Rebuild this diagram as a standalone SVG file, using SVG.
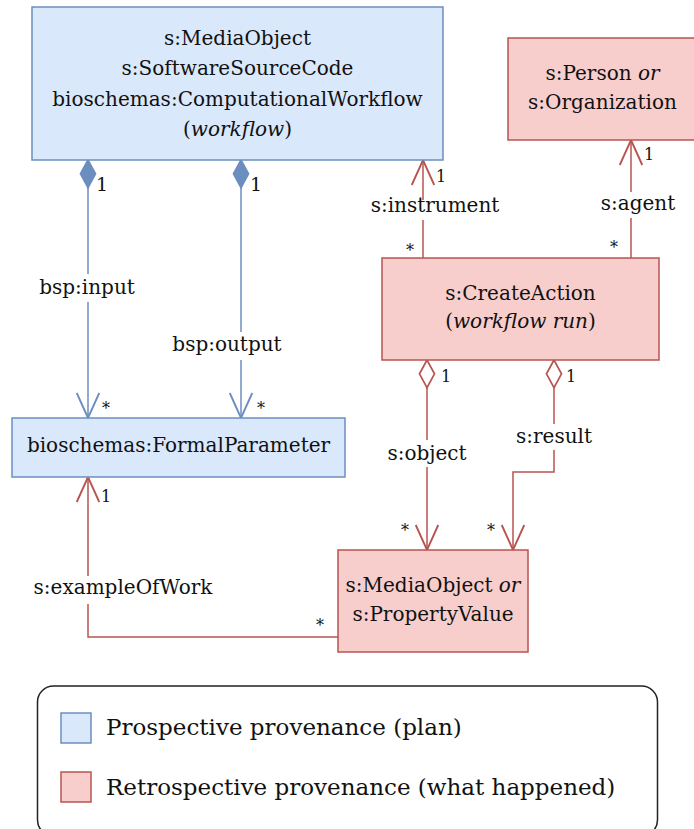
<svg xmlns="http://www.w3.org/2000/svg" width="694" height="829" viewBox="0 0 694 829">
<style>
.t{font-family:"DejaVu Serif","Liberation Serif",serif;font-size:20px;fill:#111;text-anchor:middle}
.m{font-family:"DejaVu Serif","Liberation Serif",serif;font-size:16px;fill:#111}
.lg{font-family:"DejaVu Serif","Liberation Serif",serif;font-size:23px;fill:#111}
.blue{fill:#dae8fc;stroke:#6c8ebf;stroke-width:1.5}
.red{fill:#f8cecc;stroke:#b85450;stroke-width:1.5}
.cb{fill:none;stroke:#6c8ebf;stroke-width:1.5}
.cr{fill:none;stroke:#b85450;stroke-width:1.5}
.bg{fill:#fff}
</style>
<defs>
<marker id="ab" markerUnits="userSpaceOnUse" markerWidth="30" markerHeight="30" viewBox="-22 -11 24 22" refX="0" refY="0" orient="auto" overflow="visible"><path d="M-20,-9 L0,0 L-20,9" fill="none" stroke="#6c8ebf" stroke-width="1.5"/></marker>
<marker id="ar" markerUnits="userSpaceOnUse" markerWidth="30" markerHeight="30" viewBox="-22 -11 24 22" refX="0" refY="0" orient="auto" overflow="visible"><path d="M-20,-9 L0,0 L-20,9" fill="none" stroke="#b85450" stroke-width="1.5"/></marker>
<marker id="db" markerUnits="userSpaceOnUse" markerWidth="30" markerHeight="30" viewBox="-1 -8 26 16" refX="0" refY="0" orient="auto" overflow="visible"><path d="M0,0 L12,6.5 L24,0 L12,-6.5 Z" fill="#6c8ebf" stroke="#6c8ebf" stroke-width="1.5"/></marker>
<marker id="dr" markerUnits="userSpaceOnUse" markerWidth="30" markerHeight="30" viewBox="-1 -8 26 16" refX="0" refY="0" orient="auto" overflow="visible"><path d="M0,0 L12,6.5 L24,0 L12,-6.5 Z" fill="#fff" stroke="#b85450" stroke-width="1.5"/></marker>
</defs>
<rect width="694" height="829" fill="#fff"/>

<g id="connectors">
  <g id="e-input">
    <path class="cb" d="M88,160 V418" marker-start="url(#db)" marker-end="url(#ab)"/>
    <rect class="bg" x="34" y="274" width="108" height="28"/>
    <text class="t" x="87" y="294">bsp:input</text>
    <text class="m" x="96" y="191" style="font-size:19px">1</text>
    <text class="m" x="102" y="414">*</text>
  </g>
  <g id="e-output">
    <path class="cb" d="M241,160 V418" marker-start="url(#db)" marker-end="url(#ab)"/>
    <rect class="bg" x="168" y="332" width="120" height="28"/>
    <text class="t" x="227" y="351">bsp:output</text>
    <text class="m" x="250" y="191" style="font-size:19px">1</text>
    <text class="m" x="257" y="414">*</text>
  </g>
  <g id="e-instrument">
    <path class="cr" d="M423,258 V160" marker-end="url(#ar)"/>
    <rect class="bg" x="368" y="200" width="134" height="20"/>
    <text class="t" x="435" y="212">s:instrument</text>
    <text class="m" x="436" y="182">1</text>
    <text class="m" x="406" y="256">*</text>
  </g>
  <g id="e-agent">
    <path class="cr" d="M631,258 V140" marker-end="url(#ar)"/>
    <rect class="bg" x="599" y="192" width="80" height="26"/>
    <text class="t" x="638" y="210">s:agent</text>
    <text class="m" x="644" y="160">1</text>
    <text class="m" x="610" y="253">*</text>
  </g>
  <g id="e-object">
    <path class="cr" d="M427,360 V550" marker-start="url(#dr)" marker-end="url(#ar)"/>
    <rect class="bg" x="385" y="440" width="84" height="27"/>
    <text class="t" x="427" y="460">s:object</text>
    <text class="m" x="441" y="382">1</text>
    <text class="m" x="401" y="536">*</text>
  </g>
  <g id="e-result">
    <path class="cr" d="M554,360 V472 H513 V550" marker-start="url(#dr)" marker-end="url(#ar)"/>
    <rect class="bg" x="513" y="424" width="82" height="26"/>
    <text class="t" x="554" y="443">s:result</text>
    <text class="m" x="566" y="382">1</text>
    <text class="m" x="487" y="536">*</text>
  </g>
  <g id="e-exampleOfWork">
    <path class="cr" d="M338,637 H88 V477" marker-end="url(#ar)"/>
    <rect class="bg" x="28" y="576" width="192" height="28"/>
    <text class="t" x="123" y="594">s:exampleOfWork</text>
    <text class="m" x="101" y="502">1</text>
    <text class="m" x="316" y="631">*</text>
  </g>
</g>

<g id="workflow">
  <rect class="blue" x="32" y="7" width="411" height="153"/>
  <text class="t" x="237.5" y="45">s:MediaObject</text>
  <text class="t" x="237.5" y="75">s:SoftwareSourceCode</text>
  <text class="t" x="237.5" y="106">bioschemas:ComputationalWorkflow</text>
  <text class="t" x="237.5" y="136">(<tspan font-style="italic">workflow</tspan>)</text>
</g>
<g id="formalparameter">
  <rect class="blue" x="12" y="418" width="333" height="59"/>
  <text class="t" x="178.5" y="452">bioschemas:FormalParameter</text>
</g>
<g id="person">
  <rect class="red" x="508" y="38" width="189" height="102"/>
  <text class="t" x="602.5" y="80">s:Person <tspan font-style="italic">or</tspan></text>
  <text class="t" x="602.5" y="109">s:Organization</text>
</g>
<g id="createaction">
  <rect class="red" x="382" y="258" width="277" height="102"/>
  <text class="t" x="520.5" y="300">s:CreateAction</text>
  <text class="t" x="520.5" y="328">(<tspan font-style="italic">workflow run</tspan>)</text>
</g>
<g id="mediaobject">
  <rect class="red" x="338" y="550" width="190" height="102"/>
  <text class="t" x="433" y="592">s:MediaObject <tspan font-style="italic">or</tspan></text>
  <text class="t" x="433" y="621">s:PropertyValue</text>
</g>

<g id="legend">
  <rect x="37.5" y="686" width="620" height="150" rx="16" fill="#fff" stroke="#222" stroke-width="1.5"/>
  <rect class="blue" x="61" y="713" width="30" height="30"/>
  <text class="lg" x="106" y="735">Prospective provenance (plan)</text>
  <rect class="red" x="61" y="772" width="30" height="30"/>
  <text class="lg" x="106" y="795">Retrospective provenance (what happened)</text>
</g>
</svg>
